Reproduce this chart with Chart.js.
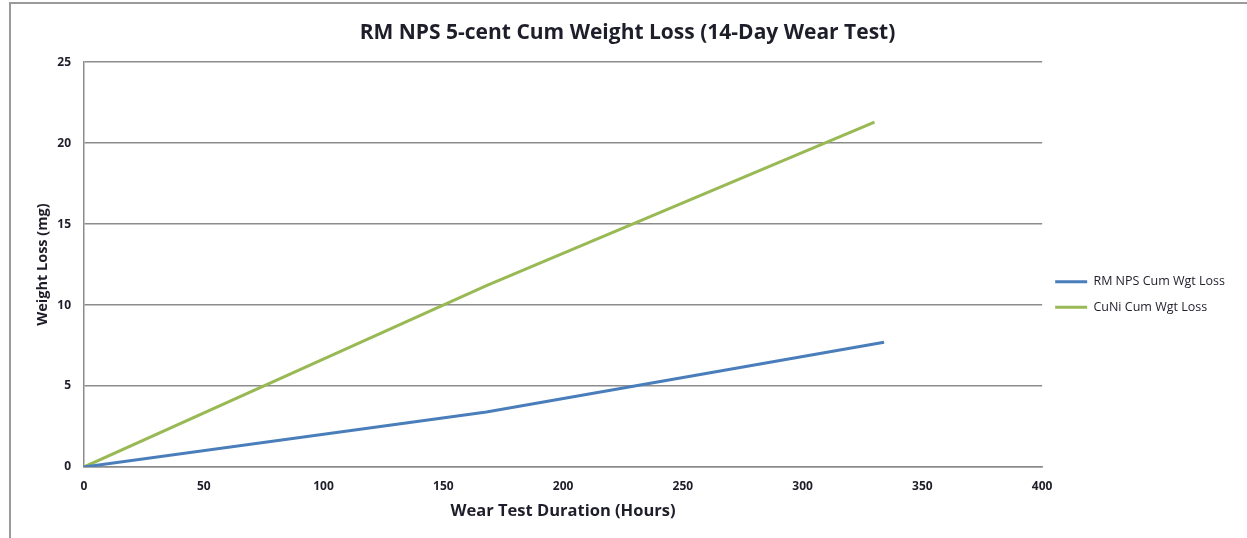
<!DOCTYPE html>
<html>
<head>
<meta charset="utf-8">
<script src="https://cdn.jsdelivr.net/npm/chart.js@4"></script>
<style>
  html, body { margin: 0; padding: 0; background: #fff; overflow: hidden; }
  #frame {
    position: absolute; left: 9px; top: 2px; width: 1300px; height: 600px;
    border-left: 2px solid #9a9a9a; border-top: 2px solid #9a9a9a;
  }
  #wrap { position: absolute; left: 0; top: 0; width: 1247px; height: 538px; }
</style>
</head>
<body>
<div id="frame"></div>
<div id="wrap"><canvas id="wearChart"></canvas></div>
<script>
const chartTitle = 'RM NPS 5-cent Cum Weight Loss (14-Day Wear Test)';
const xTitle = 'Wear Test Duration (Hours)';
const yTitle = 'Weight Loss (mg)';

const seriesNames = ['RM NPS Cum Wgt Loss', 'CuNi Cum Wgt Loss'];
const rmHours = [0, 168, 334];
const rmLoss = [0, 3.4, 7.7];
const cuniHours = [0, 168, 330];
const cuniLoss = [0, 11.2, 21.3];

const xTicks = [0, 50, 100, 150, 200, 250, 300, 350, 400];
const yTicks = [0, 5, 10, 15, 20, 25];

const gridColor = '#8c8c8c';
const textColor = '#1e1e2a';
const fontFamily = '"Open Sans", "DejaVu Sans", sans-serif';

function toPoints(xs, ys) {
  return xs.map((x, i) => ({ x: x, y: ys[i] }));
}

const ctx = document.getElementById('wearChart').getContext('2d');
new Chart(ctx, {
  type: 'line',
  data: {
    datasets: [
      {
        label: seriesNames[0],
        data: toPoints(rmHours, rmLoss),
        borderColor: '#4a7ebb',
        backgroundColor: '#4a7ebb',
        borderWidth: 3,
        pointRadius: 0,
        tension: 0
      },
      {
        label: seriesNames[1],
        data: toPoints(cuniHours, cuniLoss),
        borderColor: '#98b954',
        backgroundColor: '#98b954',
        borderWidth: 3,
        pointRadius: 0,
        tension: 0
      }
    ]
  },
  options: {
    responsive: true,
    maintainAspectRatio: false,
    animation: false,
    layout: { padding: { left: 20, top: 0, right: 12, bottom: 11 } },
    scales: {
      x: {
        type: 'linear',
        min: 0,
        max: 400,
        afterBuildTicks: (scale) => { scale.ticks = xTicks.map(v => ({ value: v })); },
        afterFit: (scale) => { scale.height = 60; },
        grid: { display: false, drawTicks: false },
        border: { display: true, color: gridColor, width: 1.5 },
        ticks: { padding: 12, color: textColor, font: { family: fontFamily, size: 12, weight: 'bold' } },
        title: {
          display: true,
          text: xTitle,
          color: textColor,
          padding: { top: 0, bottom: 6 },
          font: { family: fontFamily, size: 16.5, weight: 'bold' }
        }
      },
      y: {
        min: 0,
        max: 25,
        afterBuildTicks: (scale) => { scale.ticks = yTicks.map(v => ({ value: v })); },
        afterFit: (scale) => { scale.width = 64; },
        grid: { color: gridColor, lineWidth: 1.5, drawTicks: false },
        border: { display: true, color: gridColor, width: 1.5 },
        ticks: { padding: 13, color: textColor, font: { family: fontFamily, size: 12, weight: 'bold' } },
        title: {
          display: true,
          text: yTitle,
          color: textColor,
          padding: { top: 14, bottom: 0 },
          font: { family: fontFamily, size: 14.5, weight: 'bold' }
        }
      }
    },
    plugins: {
      title: {
        display: true,
        text: chartTitle,
        color: textColor,
        padding: { top: 20, bottom: 17 },
        font: { family: fontFamily, size: 21, weight: 'bold' }
      },
      legend: {
        position: 'right',
        title: { display: true, text: ' ', padding: { top: 0, bottom: 49 }, font: { size: 11 } },
        labels: {
          usePointStyle: true,
          pointStyle: 'line',
          pointStyleWidth: 32,
          padding: 13,
          color: textColor,
          font: { family: fontFamily, size: 12.5 }
        }
      },
      tooltip: { enabled: false }
    }
  }
});
</script>
</body>
</html>
